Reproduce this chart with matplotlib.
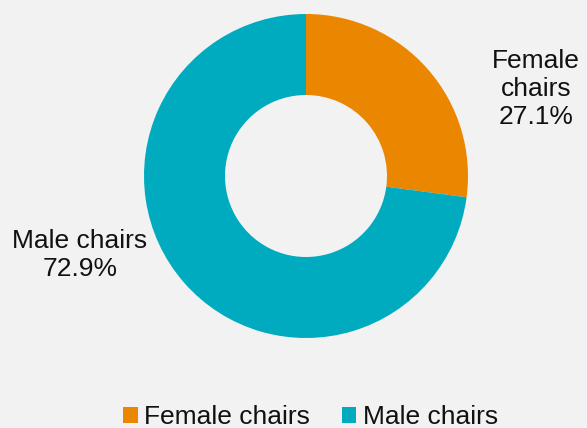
import matplotlib
matplotlib.use("Agg")
import matplotlib.pyplot as plt

categories = ["Female chairs", "Male chairs"]
values = [27.1, 72.9]
colors = ["#EA8600", "#00ABC0"]
bg = "#F2F2F2"

W, H = 587, 428
fig = plt.figure(figsize=(W / 100, H / 100), dpi=100, facecolor=bg)
ax = fig.add_axes([0, 0, 1, 1])
ax.set_facecolor(bg)

plt.rcParams['font.family'] = ['Liberation Sans', 'DejaVu Sans']
fs = 19

wedges, _ = ax.pie(values, colors=colors, startangle=90, counterclock=False,
                   radius=162, center=(306, H - 176),
                   wedgeprops=dict(width=81, linewidth=0), frame=True)
ax.set_xlim(0, W)
ax.set_ylim(0, H)
ax.set_aspect('auto')
ax.set_axis_off()

ax.text(536, H - 89, f"{categories[0].split()[0]}\n{categories[0].split()[1]}\n{values[0]:.1f}%",
        ha='center', va='center', fontsize=fs, color='#111111', linespacing=1.2)
ax.text(80, H - 255, f"{categories[1]}\n{values[1]:.1f}%",
        ha='center', va='center', fontsize=fs, color='#111111', linespacing=1.2)

fig.legend(wedges, categories, loc='center', bbox_to_anchor=(310.5 / W, 11 / H),
           ncol=2, frameon=False, fontsize=fs, handlelength=0.55, handleheight=0.55,
           handletextpad=0.25, columnspacing=1.2, borderpad=0, labelcolor='#111111')

fig.savefig("out.png", dpi=100, facecolor=bg)
